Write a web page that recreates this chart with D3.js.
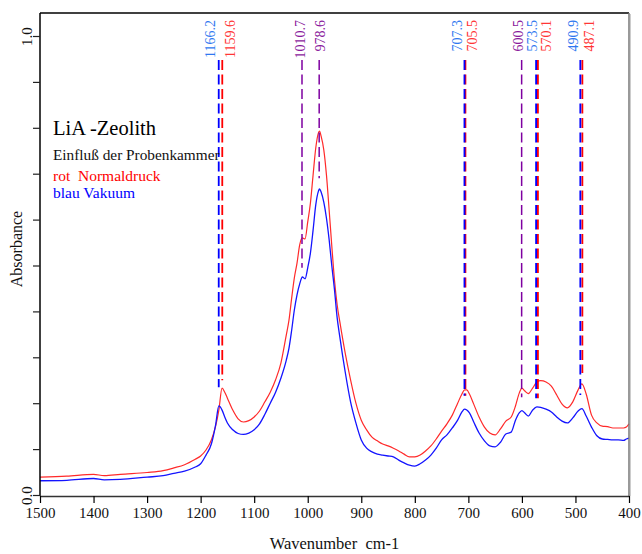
<!DOCTYPE html>
<html>
<head>
<meta charset="utf-8">
<script src="https://cdn.jsdelivr.net/npm/d3@7"></script>
<style>
    body { margin: 0; background: #fff; }
    text { font-family: 'Liberation Serif', 'Times New Roman', serif; }
</style>
</head>
<body>
<div id="chart-area"></div>
<script>
'use strict';

// wavenumbers (cm-1), descending like the x axis
let wavenumbers = [
    1500, 1450, 1400, 1380, 1350, 1300, 1270, 1250, 1230, 1210,
    1200, 1190, 1180, 1172, 1166, 1160, 1155, 1150, 1140, 1130,
    1120, 1110, 1100, 1090, 1080, 1070, 1060, 1050, 1040, 1035,
    1030, 1025, 1020, 1015, 1010, 1005, 1000, 995, 990, 985,
    980, 978, 975, 970, 965, 960, 955, 950, 945, 940,
    930, 920, 910, 900, 890, 880, 870, 860, 850, 840,
    830, 820, 810, 800, 790, 780, 770, 760, 750, 740,
    730, 720, 712, 707, 703, 698, 690, 680, 670, 660,
    650, 640, 630, 620, 612, 605, 600, 595, 588, 580,
    572, 565, 555, 545, 535, 525, 515, 505, 495, 488,
    480, 470, 460, 450, 440, 430, 420, 410, 405, 400
];

// rot = Normaldruck
let rotValues = [
    .039, .041, .045, .042, .045, .049, .053, .059, .066, .078,
    .085, .098, .120, .150, .185, .233, .224, .211, .185, .166,
    .159, .162, .170, .183, .203, .224, .251, .288, .349, .381,
    .429, .473, .505, .545, .560, .558, .595, .636, .697, .756,
    .789, .793, .782, .752, .697, .621, .542, .468, .414, .377,
    .309, .251, .200, .163, .142, .126, .118, .111, .107, .102,
    .096, .089, .083, .083, .087, .096, .107, .122, .139, .155,
    .174, .200, .220, .229, .229, .220, .198, .170, .148, .135,
    .131, .144, .161, .170, .194, .222, .233, .227, .221, .233,
    .246, .249, .246, .237, .218, .198, .190, .203, .229, .242,
    .220, .174, .157, .150, .149, .146, .146, .146, .148, .155
];

// blau = Vakuum
let blauValues = [
    .031, .032, .036, .033, .034, .039, .042, .047, .052, .061,
    .068, .087, .111, .153, .194, .185, .170, .157, .142, .134,
    .132, .135, .142, .155, .176, .200, .224, .255, .294, .320,
    .359, .403, .436, .460, .475, .471, .495, .527, .577, .632,
    .662, .667, .660, .638, .603, .556, .499, .447, .386, .344,
    .268, .203, .157, .120, .102, .094, .089, .087, .085, .083,
    .076, .070, .065, .063, .068, .076, .087, .102, .120, .131,
    .146, .163, .181, .187, .185, .179, .159, .135, .118, .107,
    .105, .115, .133, .137, .163, .179, .184, .179, .172, .185,
    .192, .191, .187, .181, .170, .161, .157, .168, .183, .188,
    .172, .148, .129, .122, .121, .120, .120, .119, .122, .124
];

// marked peaks
let peakWns = [1166.2, 1159.6, 1010.7, 978.6, 707.3, 705.5, 600.5, 573.5, 570.1, 490.9, 487.1];
let peakSeries = ['blau', 'rot', 'beide', 'beide', 'blau', 'rot', 'beide', 'blau', 'rot', 'blau', 'rot'];
let peakEnds = [0.235, 0.25, 0.495, 0.69, 0.216, 0.216, 0.213, 0.211, 0.211, 0.218, 0.266];

let xTicks = [1500, 1400, 1300, 1200, 1100, 1000, 900, 800, 700, 600, 500, 400];
let yTicks = [0, 0.1, 0.2, 0.3, 0.4, 0.5, 0.6, 0.7, 0.8, 0.9, 1.0];

// layout
let W = 642, H = 554;
let plot = { left: 40, right: 629, top: 13, bottom: 496 };
let labelShift = [-9, 8, -2, 1, -7.5, 7, -4, -4.5, 8, -7.5, 6.5];

let lineColour = { blau: '#0000ff', rot: '#ff0000', beide: '#7e00a0' };
let labelColour = { blau: '#2f78f0', rot: '#ff3535', beide: '#8a1a9c' };

let svg = d3.select('#chart-area').append('svg')
    .attr('width', W)
    .attr('height', H);

let x = d3.scaleLinear()
    .domain([1500, 400])
    .range([plot.left, plot.right]);

let y = d3.scaleLinear()
    .domain([0, 1])
    .range([495, 36]);

// spectra
let line = d3.line()
    .x((d, i) => x(wavenumbers[i]))
    .y(d => y(d))
    .curve(d3.curveMonotoneX);

svg.append('path')
    .attr('d', line(rotValues))
    .attr('fill', 'none')
    .attr('stroke', '#ff2a2a')
    .attr('stroke-width', 1.2);

svg.append('path')
    .attr('d', line(blauValues))
    .attr('fill', 'none')
    .attr('stroke', '#1414ff')
    .attr('stroke-width', 1.3);

// peak markers, red first so blue sits on top
let order = d3.range(peakWns.length).sort((a, b) => {
    let r = { rot: 0, beide: 1, blau: 2 };
    return r[peakSeries[a]] - r[peakSeries[b]];
});

svg.append('g').selectAll('line')
    .data(order)
    .enter()
    .append('line')
        .attr('x1', i => x(peakWns[i]))
        .attr('x2', i => x(peakWns[i]))
        .attr('y1', 60)
        .attr('y2', i => y(peakEnds[i]))
        .attr('stroke', i => lineColour[peakSeries[i]])
        .attr('stroke-width', i => peakSeries[i] == 'beide' ? 1.5 : 1.8)
        .attr('stroke-dasharray', '10,4.5');

svg.append('g').selectAll('text')
    .data(d3.range(peakWns.length))
    .enter()
    .append('text')
        .attr('transform', i =>
            'translate(' + (x(peakWns[i]) + labelShift[i]) + ',20) rotate(-90)')
        .attr('dy', '0.35em')
        .attr('text-anchor', 'end')
        .attr('font-size', '14px')
        .attr('fill', i => labelColour[peakSeries[i]])
        .text(i => peakWns[i].toFixed(1));

// frame
svg.append('line')
    .attr('x1', plot.left).attr('x2', plot.right)
    .attr('y1', plot.top).attr('y2', plot.top)
    .attr('stroke', '#000').attr('stroke-width', 1.5);
svg.append('line')
    .attr('x1', plot.right).attr('x2', plot.right)
    .attr('y1', plot.top).attr('y2', plot.bottom)
    .attr('stroke', '#777').attr('stroke-width', 1.5);
svg.append('line')
    .attr('x1', plot.right + 1.5).attr('x2', plot.right + 1.5)
    .attr('y1', plot.top + 1).attr('y2', plot.bottom)
    .attr('stroke', '#ccc').attr('stroke-width', 1);

// axes
let xAxis = d3.axisBottom(x)
    .tickValues(xTicks)
    .tickSize(7)
    .tickSizeOuter(0)
    .tickPadding(4)
    .tickFormat(d3.format('d'));

let gx = svg.append('g')
    .attr('transform', 'translate(0,' + plot.bottom + ')')
    .call(xAxis);
gx.select('.domain').attr('stroke', '#333').attr('stroke-width', 1.3);
gx.selectAll('.tick line').attr('stroke', '#000').attr('stroke-width', 1.2);
gx.selectAll('text')
    .attr('font-family', 'Liberation Serif')
    .attr('font-size', '15px')
    .attr('fill', '#111');

let yAxis = d3.axisLeft(y)
    .tickValues(yTicks)
    .tickSize(7)
    .tickSizeOuter(0)
    .tickFormat(d => (d == 0 || d == 1) ? d3.format('.1f')(d) : '');

let gy = svg.append('g')
    .attr('transform', 'translate(' + plot.left + ',0)')
    .call(yAxis);
gy.select('.domain')
    .attr('d', 'M0,' + plot.top + 'V' + plot.bottom)
    .attr('stroke', '#000').attr('stroke-width', 1.5);
gy.selectAll('.tick line').attr('stroke', '#222').attr('stroke-width', 1.2);
gy.selectAll('text')
    .attr('font-family', 'Liberation Serif')
    .attr('font-size', '15px')
    .attr('fill', '#111')
    .attr('text-anchor', 'middle')
    .attr('x', 0)
    .attr('y', -8)
    .attr('dy', 0)
    .attr('transform', 'rotate(-90)');

// axis titles
svg.append('text')
    .attr('x', (plot.left + plot.right) / 2)
    .attr('y', 549)
    .attr('font-size', '16.5px')
    .attr('text-anchor', 'middle')
    .attr('fill', '#111')
    .attr('xml:space', 'preserve')
    .text('Wavenumber  cm-1');

svg.append('text')
    .attr('transform', 'translate(22,249) rotate(-90)')
    .attr('font-size', '16px')
    .attr('text-anchor', 'middle')
    .attr('fill', '#111')
    .text('Absorbance');

// annotations
svg.append('text')
    .attr('x', 53).attr('y', 135)
    .attr('font-size', '20.5px')
    .attr('fill', '#000')
    .text('LiA -Zeolith');

svg.append('text')
    .attr('x', 53).attr('y', 160)
    .attr('font-size', '15.3px')
    .attr('fill', '#111')
    .text('Einfluß der Probenkammer');

svg.append('text')
    .attr('x', 53).attr('y', 181)
    .attr('font-size', '15.5px')
    .attr('fill', '#ff0000')
    .attr('xml:space', 'preserve')
    .text('rot  Normaldruck');

svg.append('text')
    .attr('x', 53).attr('y', 198)
    .attr('font-size', '15.5px')
    .attr('fill', '#0000ff')
    .text('blau Vakuum');
</script>
</body>
</html>
